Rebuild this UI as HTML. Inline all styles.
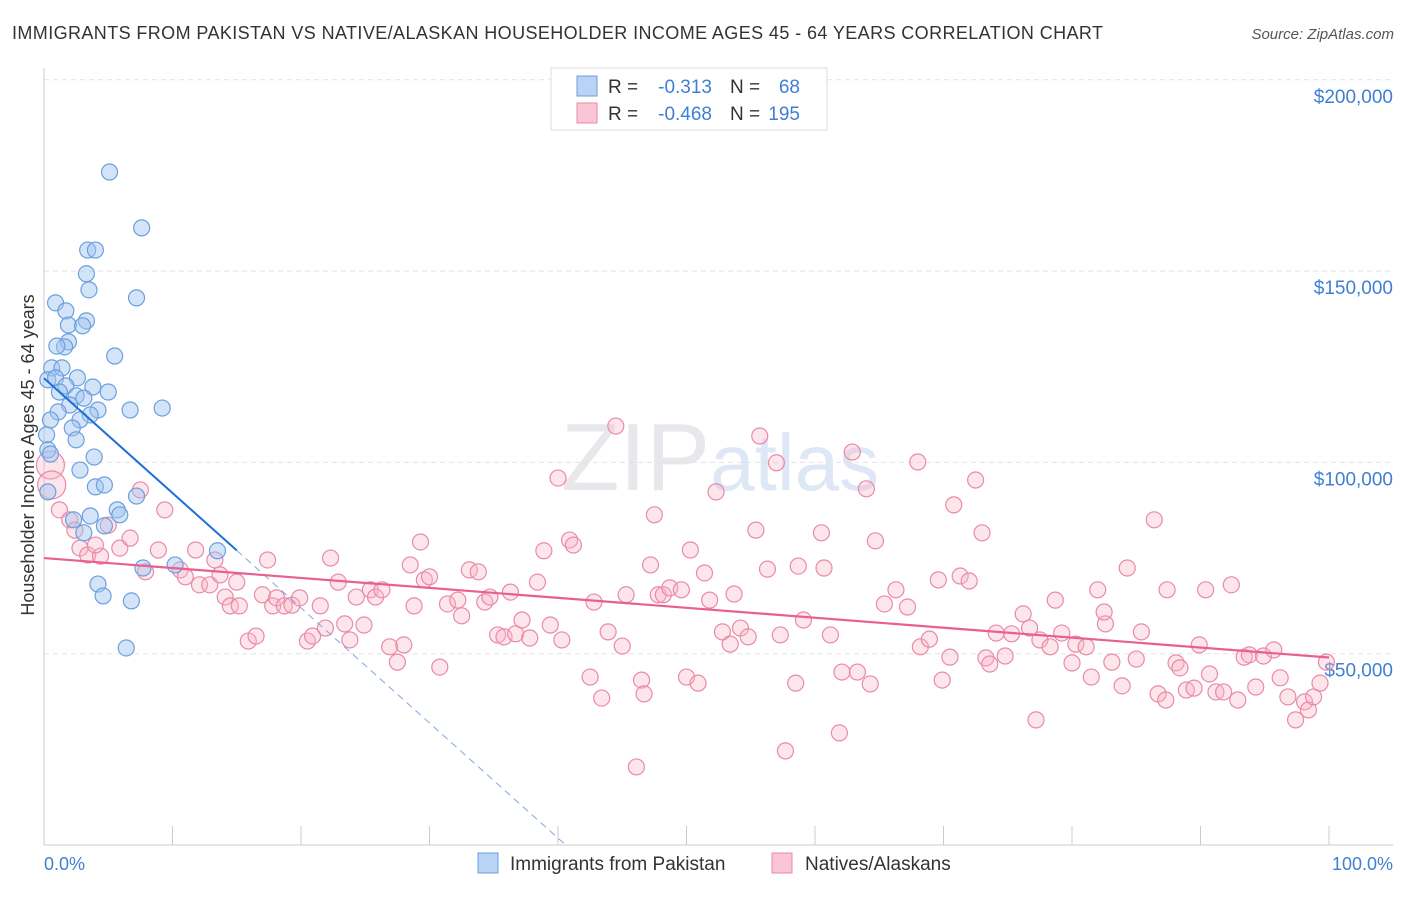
<!DOCTYPE html>
<html><head><meta charset="utf-8"><style>
body{margin:0;background:#fff;font-family:"Liberation Sans",sans-serif}
svg text{font-family:"Liberation Sans",sans-serif}
</style></head><body>
<svg id="c" width="1406" height="892">
<text x="12" y="39" font-size="18" fill="#333" textLength="1091">IMMIGRANTS FROM PAKISTAN VS NATIVE/ALASKAN HOUSEHOLDER INCOME AGES 45 - 64 YEARS CORRELATION CHART</text>
<text x="1394" y="39" font-size="15" fill="#555" font-style="italic" text-anchor="end">Source: ZipAtlas.com</text>
<text x="720" y="490" font-size="96" fill="#e8e8ec" text-anchor="middle" font-family="Liberation Serif">ZIP<tspan fill="#dde7f6" font-family="Liberation Sans" font-size="80">atlas</tspan></text>
<g id="grid"></g><g id="axes"></g><g id="pts"></g><g id="lines"></g>
<text transform="translate(34,455) rotate(-90)" font-size="18" fill="#333" text-anchor="middle">Householder Income Ages 45 - 64 years</text>
<text x="44" y="870" font-size="18" fill="#3f7fd3">0.0%</text>
<text x="1393" y="870" font-size="18" fill="#3f7fd3" text-anchor="end">100.0%</text>
<g>
<rect x="551" y="68" width="276" height="62" fill="#fff" stroke="#ddd"/>
<rect x="577" y="76" width="20" height="20" fill="#b9d3f5" stroke="#6a9fe0"/>
<rect x="577" y="103" width="20" height="20" fill="#f9c6d5" stroke="#e98aa8"/>
<text x="608" y="93" font-size="19" fill="#333">R =</text>
<text x="712" y="93" font-size="19" fill="#3f7fd3" text-anchor="end">-0.313</text>
<text x="730" y="93" font-size="19" fill="#333">N =</text>
<text x="800" y="93" font-size="19" fill="#3f7fd3" text-anchor="end">68</text>
<text x="608" y="120" font-size="19" fill="#333">R =</text>
<text x="712" y="120" font-size="19" fill="#3f7fd3" text-anchor="end">-0.468</text>
<text x="730" y="120" font-size="19" fill="#333">N =</text>
<text x="800" y="120" font-size="19" fill="#3f7fd3" text-anchor="end">195</text>
</g>
<g>
<rect x="478" y="853" width="20" height="20" fill="#b9d3f5" stroke="#6a9fe0"/>
<text x="510" y="870" font-size="19" fill="#333">Immigrants from Pakistan</text>
<rect x="772" y="853" width="20" height="20" fill="#f9c6d5" stroke="#e98aa8"/>
<text x="805" y="870" font-size="19" fill="#333">Natives/Alaskans</text>
</g>
</svg>
<script>
const yTicks=[50000,100000,150000,200000];
const yTickLabels=["$50,000","$100,000","$150,000","$200,000"];
const xTicks=[0,10,20,30,40,50,60,70,80,90,100];
const blueX=[5.1,7.6,3.4,4.0,3.3,3.5,7.2,0.9,1.7,3.3,1.9,3.0,1.9,1.6,5.5,1.0,0.6,1.4,0.3,0.9,2.6,1.7,3.8,5.0,1.2,2.5,3.1,2.0,4.2,6.7,9.2,1.1,3.6,2.8,2.2,0.5,2.5,0.2,0.3,0.5,3.9,2.8,0.3,4.0,4.7,3.6,5.7,7.2,2.3,5.9,4.7,3.1,7.7,10.2,13.5,4.2,4.6,6.8,6.4];
const blueY=[175.9,161.3,155.5,155.5,149.3,145.1,143.0,141.7,139.6,137.0,135.9,135.7,131.5,130.2,127.8,130.4,124.7,124.7,121.6,122.1,122.1,120.0,119.7,118.4,118.4,117.4,116.8,115.0,113.7,113.7,114.2,113.2,112.4,111.1,109.0,111.1,105.9,107.2,103.3,102.2,101.4,98.0,92.3,93.6,94.1,86.0,87.6,91.2,85.0,86.3,83.4,81.6,72.4,73.2,76.9,68.2,65.1,63.8,51.5];
const pinkX=[0.5,0.6,1.2,2.0,2.4,2.8,3.4,4.4,4.0,5.9,5.0,6.7,7.5,7.9,8.9,9.4,10.6,11.0,11.8,12.1,12.9,13.3,13.7,14.1,14.5,15.0,15.2,15.9,16.5,17.0,17.4,17.8,18.1,18.7,19.3,19.9,20.5,20.9,21.5,21.9,22.3,22.9,23.4,23.8,24.3,24.9,25.4,25.8,26.3,26.9,27.5,28.0,28.5,28.8,29.3,29.6,30.0,30.8,31.4,32.2,32.5,33.1,33.8,34.3,34.7,35.3,35.8,36.3,36.7,37.2,37.8,38.4,38.9,39.4,40.0,40.3,40.9,41.2,42.5,42.8,43.4,43.9,44.5,45.0,45.3,46.1,46.5,46.7,47.2,47.5,47.8,48.2,48.7,49.6,50.0,50.3,50.9,51.4,51.8,52.3,52.8,53.4,53.7,54.2,54.8,55.4,55.7,56.3,57.0,57.3,57.7,58.5,58.7,59.1,60.5,60.7,61.2,61.9,62.1,62.9,63.3,64.0,64.3,64.7,65.4,66.3,67.2,68.0,68.2,68.9,69.6,69.9,70.5,70.8,71.3,72.0,72.5,73.0,73.3,73.6,74.1,74.8,75.3,76.2,76.7,77.2,77.5,78.3,78.7,79.2,80.0,80.3,81.1,81.5,82.0,82.6,82.5,83.1,83.9,84.3,85.0,85.4,86.4,86.7,87.3,87.4,88.1,88.4,88.9,89.5,89.9,90.4,90.7,91.2,91.8,92.4,92.9,93.4,93.8,94.3,94.9,95.7,96.2,96.8,97.4,98.1,98.4,98.8,99.3,99.8];
const pinkY=[99.3,94.1,87.6,85.0,82.3,77.6,75.8,75.5,78.4,77.6,83.6,80.2,92.8,71.4,77.1,87.6,71.9,70.1,77.1,68.0,68.0,74.5,70.6,64.8,62.5,68.7,62.5,53.3,54.6,65.4,74.5,62.5,64.6,62.5,62.7,64.6,53.3,54.6,62.5,56.7,75.0,68.7,57.8,53.6,64.8,57.5,66.7,64.8,66.7,51.8,47.8,52.3,73.2,62.5,79.2,69.3,70.1,46.5,63.0,64.0,59.9,71.9,71.4,63.5,64.8,54.9,54.4,66.1,55.2,58.8,54.1,68.7,76.9,57.5,95.9,53.6,79.7,78.4,43.9,63.5,38.4,55.7,109.5,52.0,65.4,20.4,43.1,39.5,73.2,86.3,65.4,65.4,67.2,66.7,43.9,77.1,42.3,71.1,64.0,92.3,55.7,52.5,65.6,56.7,54.4,82.3,106.9,72.1,99.9,54.9,24.6,42.3,72.9,58.8,81.6,72.4,54.9,29.3,45.2,102.7,45.2,93.1,42.1,79.5,63.0,66.7,62.2,100.1,51.8,53.8,69.3,43.1,49.1,88.9,70.3,69.0,95.4,81.6,48.9,47.3,55.4,49.4,55.2,60.4,56.7,32.7,53.6,51.8,64.0,55.4,47.6,52.5,51.8,43.9,66.7,57.8,60.9,47.8,41.6,72.4,48.6,55.7,85.0,39.5,37.9,66.7,47.6,46.3,40.5,41.0,52.3,66.7,44.7,40.0,40.0,68.0,37.9,49.1,49.7,41.3,49.4,51.0,43.7,38.7,32.7,37.4,35.3,38.7,42.3,47.8];
const blueTrend=[[0,122],[15,77],[40.6,0]];
const pinkTrend=[[0,75],[100,49]];
const NS="http://www.w3.org/2000/svg";
const X=p=>44+p*12.85, Y=k=>845-k*3.826;
function mk(t,a,parent){const e=document.createElementNS(NS,t);for(const k in a)e.setAttribute(k,a[k]);document.getElementById(parent).appendChild(e);return e;}
yTicks.forEach((v,i)=>{
 const g=mk('line',{x1:44,x2:1393,y1:Y(v/1000),y2:Y(v/1000),stroke:'#e2e2e2','stroke-dasharray':'5,4'},'grid');
 
 
 const t=mk('text',{x:1393,y:Y(v/1000)+23,'font-size':19,fill:'#3f7fd3','text-anchor':'end'},'axes');
 t.textContent=yTickLabels[i];
 
 
});
mk('line',{x1:44,x2:44,y1:68,y2:845,stroke:'#ccc'},'axes');
mk('line',{x1:44,x2:1393,y1:845,y2:845,stroke:'#ccc'},'axes');
xTicks.forEach(p=>{const l=mk('line',{x1:X(p),x2:X(p),y1:826,y2:845,stroke:'#ccc'},'axes');
 
 });
pinkX.forEach((x,i)=>{const r=i<2?14:8;const c=mk('circle',{cx:X(x),cy:Y(pinkY[i]),r:r,fill:'rgba(248,180,200,0.35)',stroke:'#e98aa8','stroke-width':1.2},'pts');
 
 });
blueX.forEach((x,i)=>{const c=mk('circle',{cx:X(x),cy:Y(blueY[i]),r:8,fill:'rgba(160,196,240,0.45)',stroke:'#6a9fe0','stroke-width':1.2},'pts');
 
 });
let l=mk('line',{x1:X(blueTrend[0][0]),y1:Y(blueTrend[0][1]),x2:X(blueTrend[1][0]),y2:Y(blueTrend[1][1]),stroke:'#1f6fd8','stroke-width':2},'lines');


l=mk('line',{x1:X(blueTrend[1][0]),y1:Y(blueTrend[1][1]),x2:X(blueTrend[2][0]),y2:Y(blueTrend[2][1]),stroke:'#7fa8e0','stroke-width':1,'stroke-dasharray':'7,5'},'lines');


l=mk('line',{x1:X(pinkTrend[0][0]),y1:Y(pinkTrend[0][1]),x2:X(pinkTrend[1][0]),y2:Y(pinkTrend[1][1]),stroke:'#e8608f','stroke-width':2.2},'lines');


</script>
</body></html>
